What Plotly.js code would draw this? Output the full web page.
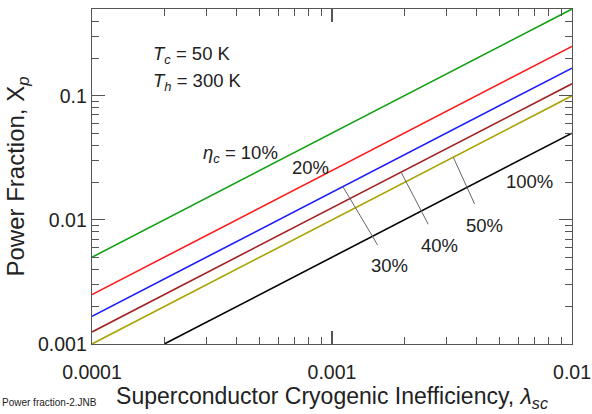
<!DOCTYPE html>
<html>
<head>
<meta charset="utf-8">
<script src="https://cdn.plot.ly/plotly-3.0.1.min.js"></script>
<style>html,body{margin:0;padding:0;background:#fff;}#chart{width:592px;height:414px;}</style>
</head>
<body>
<div id="chart"></div>
<script>
// Endpoints of each curve (straight lines on log-log axes)
const etaLabels = ["10%", "20%", "30%", "40%", "50%", "100%"];
const lambda10 = [0.0001, 0.01];   const xp10 = [0.005, 0.5];
const lambda20 = [0.0001, 0.01];   const xp20 = [0.0025, 0.25];
const lambda30 = [0.0001, 0.01];   const xp30 = [0.00167, 0.167];
const lambda40 = [0.0001, 0.01];   const xp40 = [0.00125, 0.125];
const lambda50 = [0.0001, 0.01];   const xp50 = [0.001, 0.1];
const lambda100 = [0.0002, 0.01];  const xp100 = [0.001, 0.05];
const colors = ["#14a014", "#ff1a1a", "#1a1aff", "#a32222", "#aaa200", "#000000"];

const xTickVals = [0.0001, 0.001, 0.01];
const xTickText = ["0.0001", "0.001", "0.01"];
const yTickVals = [0.001, 0.01, 0.1];
const yTickText = ["0.001", "0.01", "0.1"];

// λ at which leader lines touch the 30%, 40%, 50% curves
const leaderLambda = [0.00111, 0.00194, 0.0032];

const xs = [lambda10, lambda20, lambda30, lambda40, lambda50, lambda100];
const ys = [xp10, xp20, xp30, xp40, xp50, xp100];

const FONT = "Liberation Sans, Arial, sans-serif";
const traces = xs.map((x, i) => ({
  x: x, y: ys[i], type: "scatter", mode: "lines",
  line: {color: colors[i], width: 1.6}, name: etaLabels[i], hoverinfo: "skip"
}));

function onLine(i, lam) {
  const lx = xs[i].map(Math.log10), ly = ys[i].map(Math.log10);
  const t = (Math.log10(lam) - lx[0]) / (lx[1] - lx[0]);
  return [Math.log10(lam), ly[0] + t * (ly[1] - ly[0])];
}

const leaderOffsets = [[47, 79], [38, 73], [31, 68]];
const leaderAnns = [2, 3, 4].map((ci, k) => {
  const p = onLine(ci, leaderLambda[k]);
  return {
    x: p[0], y: p[1], xref: "x", yref: "y", text: etaLabels[ci],
    showarrow: true, arrowhead: 0, arrowwidth: 1, arrowcolor: "#666",
    ax: leaderOffsets[k][0], ay: leaderOffsets[k][1], startstandoff: 10,
    font: {family: FONT, size: 18.5, color: "#222"}
  };
});

function paperAnn(text, px, py, xanchor) {
  return {xref: "paper", yref: "paper", x: (px - 92) / 480, y: (344 - py) / 335,
    text: text, showarrow: false, xanchor: xanchor || "center", yanchor: "middle",
    font: {family: FONT, size: 18.5, color: "#222"}};
}

const anns = [
  paperAnn("<i>T<sub>c</sub></i> = 50 K", 151, 55, "left"),
  paperAnn("<i>T<sub>h</sub></i> = 300 K", 151, 82, "left"),
  paperAnn("<i>η<sub>c</sub></i> = 10%", 240, 154),
  paperAnn(etaLabels[1], 310, 167),
  paperAnn(etaLabels[5], 529, 181),
  {xref: "paper", yref: "paper", x: -92 / 480, y: (344 - 402) / 335, xanchor: "left", yanchor: "middle",
   text: "Power fraction-2.JNB", showarrow: false, font: {family: FONT, size: 10, color: "#222"}}
].concat(leaderAnns);

const axisCommon = {
  type: "log", showgrid: false, zeroline: false, showline: true, linecolor: "#555", linewidth: 1.3,
  mirror: "ticks", ticks: "inside", ticklen: 13, tickwidth: 1.2, tickcolor: "#555",
  tickfont: {family: FONT, size: 19.5, color: "#222"},
  minor: {ticks: "inside", ticklen: 7, tickwidth: 1, tickcolor: "#555", dtick: "D1", showgrid: false}
};

const layout = {
  width: 592, height: 414,
  margin: {l: 92, r: 20, t: 9, b: 70},
  paper_bgcolor: "#fff", plot_bgcolor: "#fff",
  showlegend: false,
  font: {family: FONT, color: "#222"},
  xaxis: Object.assign({}, axisCommon, {
    range: [-4, -2], tickmode: "array", tickvals: xTickVals, ticktext: xTickText,
    ticklabelstandoff: 10,
    title: {text: "Superconductor Cryogenic Inefficiency, <i>λ<sub>sc</sub></i>",
            font: {family: FONT, size: 23, color: "#222"}, standoff: 6}
  }),
  yaxis: Object.assign({}, axisCommon, {
    range: [-3, Math.log10(0.5)], tickmode: "array", tickvals: yTickVals, ticktext: yTickText,
    ticklabelstandoff: 0,
    title: {text: "Power Fraction, X<sub><i>p</i></sub>",
            font: {family: FONT, size: 24, color: "#222"}, standoff: 6}
  }),
  annotations: anns
};

Plotly.newPlot("chart", traces, layout, {displayModeBar: false, staticPlot: true});
</script>
</body>
</html>
